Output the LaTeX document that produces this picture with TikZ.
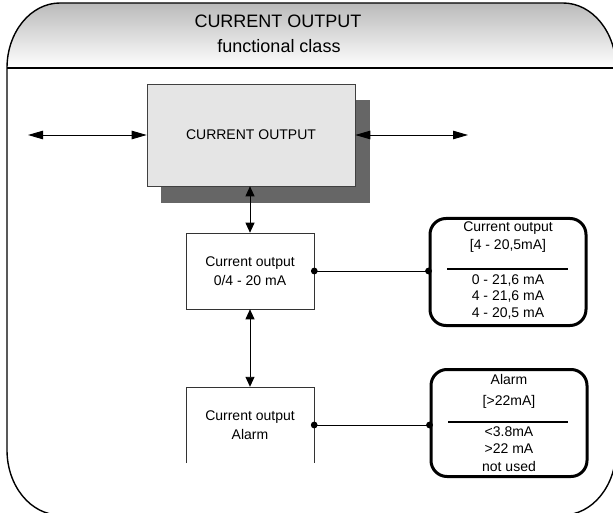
\documentclass[tikz,border=0pt]{standalone}
\usepackage{fontspec}
\setmainfont{Liberation Sans}
\usetikzlibrary{arrows.meta}
\begin{document}
\begin{tikzpicture}[x=1pt,y=-1pt,
  ttl/.style={font=\fontsize{18}{20}\selectfont, inner sep=0pt, anchor=base},
  frameline/.style={line width=1.4pt},
  mainbox/.style={draw=black!75, line width=0.6pt, fill=black!10, minimum width=208pt, minimum height=102pt, inner sep=0pt, font=\fontsize{14}{16}\selectfont},
  shadowbox/.style={fill=black!60, minimum width=209pt, minimum height=103pt, inner sep=0pt},
  subbox/.style={draw=black!80, line width=0.6pt, fill=white, minimum width=128pt, minimum height=76pt, inner sep=0pt, align=center, font=\fontsize{14}{19}\selectfont},
  openbox/.style={minimum width=128pt, minimum height=76pt, inner sep=0pt, align=center, font=\fontsize{14}{19}\selectfont},
  infobox/.style={draw=black, line width=3pt, rounded corners=16pt, minimum width=156pt, minimum height=107pt, inner sep=0pt},
  infotxt/.style={inner sep=0pt, align=center},
  divider/.style={line width=1.8pt},
  conn/.style={line width=0.9pt},
  hdbl/.style={conn, {Triangle[length=15pt,width=8.5pt]}-{Triangle[length=15pt,width=8.5pt]}},
  vdbl/.style={conn, {Triangle[length=10pt,width=9pt]}-{Triangle[length=10pt,width=9pt]}},
  dotend/.style={fill=black}
]
\useasboundingbox (0,0) rectangle (613,513);
\clip (0,0) rectangle (613,513);
% header
\shade[top color=black!27, bottom color=white] (7,68) .. controls (7,32.1) and (30.7,3) .. (60,3) -- (563,3) .. controls (592.3,3) and (616,32.1) .. (616,68) -- cycle;
\draw[frameline] (7,450) -- (7,68) .. controls (7,32.1) and (30.7,3) .. (60,3) -- (563,3) .. controls (592.3,3) and (616,32.1) .. (616,68) -- (616,450) .. controls (616,485.9) and (592.3,515) .. (563,515) -- (60,515) .. controls (30.7,515) and (7,485.9) .. (7,450) -- cycle;
\draw[line width=2pt] (7,68) -- (616,68);
\node[ttl] (title1) at (278,28) {CURRENT OUTPUT};
\node[ttl] (title2) at (279,53) {functional class};
% main box
\node[shadowbox] (mainshadow) at (265.5,151.5) {};
\node[mainbox] (main) at (251,135) {CURRENT OUTPUT};
\coordinate (lend) at (28,135);
\coordinate (rend) at (468,135);
\draw[hdbl] (lend) -- (main.west);
\draw[hdbl] (main.east) -- (rend);
% sub boxes
\node[subbox] (b2) at (250,271) {Current output\\0/4 - 20 mA};
\node[openbox] (b3) at (250,425) {Current output\\Alarm};
\draw[line width=0.6pt, draw=black!80] (b3.south west) -- (b3.north west) -- (b3.north east) -- (b3.south east);
\draw[vdbl] (b2.north |- main.south) -- (b2.north);
\draw[vdbl] (b2.south) -- (b3.north);
% info boxes
\node[infobox] (ib1) at (508,272) {};
\node[infobox] (ib2) at (509,423) {};
\node[infotxt, font=\fontsize{14}{18}\selectfont] (ib1top) at (508,237) {Current output\\[0pt][4 - 20,5mA]};
\draw[divider] (447,269) -- (568,269);
\node[infotxt, font=\fontsize{14}{16.5}\selectfont] (ib1bot) at (508,297) {0 - 21,6 mA\\4 - 21,6 mA\\4 - 20,5 mA};
\node[infotxt, font=\fontsize{14}{21}\selectfont] (ib2top) at (509,391) {Alarm\\[0pt][>22mA]};
\draw[divider] (448,422) -- (568,422);
\node[infotxt, font=\fontsize{14}{17.5}\selectfont] (ib2bot) at (509,449) {<3.8mA\\>22 mA\\not used};
% connectors
\draw[conn] (b2.east) -- (b2.east -| ib1.west);
\fill[dotend] (b2.east) circle (3.4pt);
\fill[dotend] (b2.east -| ib1.west) circle (3.4pt);
\draw[conn] (b3.east) -- (b3.east -| ib2.west);
\fill[dotend] (b3.east) circle (3.4pt);
\fill[dotend] (b3.east -| ib2.west) circle (3.4pt);
\end{tikzpicture}
\end{document}
